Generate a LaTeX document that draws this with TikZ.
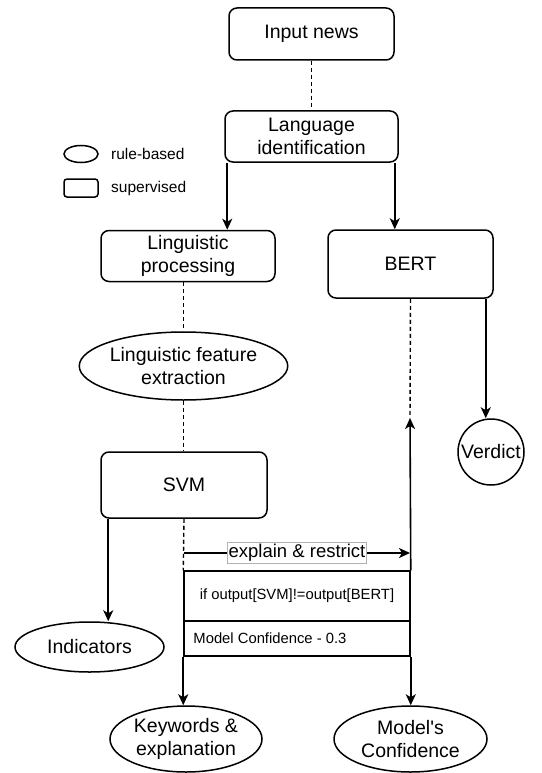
\documentclass[tikz,border=0pt]{standalone}
\usepackage{fontspec}
\setmainfont{Liberation Sans}
\newfontfamily\apofont{Liberation Sans}
\usetikzlibrary{arrows.meta,shapes.geometric}
\tikzset{
  x=1pt,y=-1pt,
  every node/.style={font=\fontsize{19.5}{22.5}\selectfont, align=center, inner sep=0pt},
  box/.style={draw, rounded corners=8pt, line width=1.5pt},
  oval/.style={draw, ellipse, line width=1.5pt},
  conn/.style={line width=1.6pt},
  arr/.style={conn, -{Stealth[length=11pt,width=10pt,inset=3pt]}},
  dsh/.style={line width=1.4pt, dash pattern=on 4pt off 3pt},
  lbl/.style={draw=gray!60, fill=white, line width=0.7pt, font=\fontsize{18.5}{21}\selectfont, inner xsep=1pt, inner ysep=2pt},
  small/.style={font=\fontsize{14.8}{17}\selectfont},
  legend/.style={font=\fontsize{15.5}{18}\selectfont, anchor=west}
}
\begin{document}
\begin{tikzpicture}
\useasboundingbox (0,0) rectangle (541,773);
% nodes
\node[box, minimum width=165pt, minimum height=52pt] (input) at (311.5,34) {Input news};
\node[box, minimum width=173pt, minimum height=51pt] (langid) at (311.5,136.5) {Language\\identification};
\node[box, minimum width=174pt, minimum height=51pt] (lingproc) at (188,256) {Linguistic\\processing};
\node[box, minimum width=165pt, minimum height=68pt] (bert) at (410.5,264) {BERT};
\node[oval, minimum width=183pt, minimum height=68pt] (lfe) at (183.5,366) {Linguistic feature\\extraction};
\node[box, minimum width=166pt, minimum height=66pt] (svm) at (184,485) {SVM};
\node[draw, circle, line width=1.5pt, minimum size=66pt] (verdict) at (491,452) {Verdict};
\node[oval, minimum width=149pt, minimum height=50pt] (indicators) at (89.5,647) {Indicators};
\node[oval, minimum width=152pt, minimum height=66pt] (keywords) at (186,739) {Keywords \&\\explanation};
\node[oval, minimum width=153pt, minimum height=66pt] (conf) at (410.5,739) {Model{\apofont '}s\\Confidence};
% table
\node[draw, line width=1.5pt, minimum width=226pt, minimum height=50pt, small] (cond) at (297,596) {if output[SVM]!=output[BERT]};
\node[draw, line width=1.5pt, minimum width=226pt, minimum height=35pt] (mc) at (297,638.5) {};
\node[small, anchor=west] (mctext) at ([xshift=10pt]mc.west) {Model Confidence - 0.3};
% legend
\node[oval, minimum width=34pt, minimum height=17pt] (lgell) at (81,154) {};
\node[legend] (lgelltext) at (111,154) {rule-based};
\node[draw, rounded corners=3pt, line width=1.5pt, minimum width=34pt, minimum height=18pt] (lgrect) at (81,188) {};
\node[legend] (lgrecttext) at (111,188) {supervised};
% coordinates
\coordinate (bertup) at (410,418);
\coordinate (ex1) at (184,553);
\coordinate (ex2) at (410,553);
% connectors
\draw[dsh] (input.south) -- (langid.north);
\draw[arr] ([xshift=3pt]langid.south west) -- ([xshift=3pt]langid.south west |- lingproc.north);
\draw[arr] ([xshift=-4pt]langid.south east) -- ([xshift=-4pt]langid.south east |- bert.north);
\draw[dsh] (lfe.north |- lingproc.south) -- (lfe.north);
\draw[dsh] (lfe.south) -- (lfe.south |- svm.north);
\draw[dsh] (bert.south) -- (bertup);
\draw[arr] (cond.north east) -- (bertup);
\draw[arr] ([xshift=-8pt]bert.south east) -- ([xshift=-8pt]bert.south east |- verdict.north);
\draw[arr] ([xshift=8pt]svm.south west) -- ([xshift=8pt]svm.south west |- indicators.north);
\draw[dsh] (svm.south) -- (cond.north west);
\draw[arr] (ex1) -- node[lbl] (exlbl) {explain \& restrict} (ex2);
\draw[arr] (mc.south west) -- (mc.south west |- keywords.north);
\draw[arr] (mc.south east) -- (mc.south east |- conf.north);
\end{tikzpicture}
\end{document}
